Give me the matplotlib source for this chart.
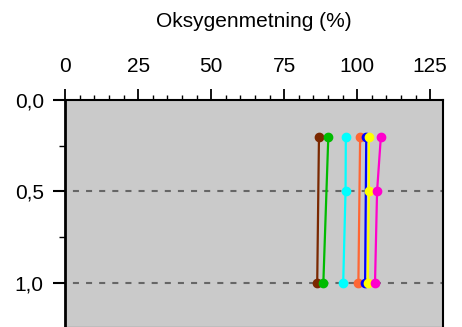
import matplotlib
matplotlib.use("Agg")
import matplotlib.pyplot as plt
from matplotlib.ticker import MultipleLocator, FixedLocator, FuncFormatter

plt.rcParams['font.family'] = ['Liberation Sans', 'DejaVu Sans']

depth_full = [0.2, 0.5, 1.0]
depth_two = [0.2, 1.0]

brown = [86.9, 86.3]
green = [90.1, 88.4]
cyan = [96.1, 96.0, 95.2]
orange = [101.0, 100.4]
blue = [103.1, 102.7]
yellow = [104.0, 104.0, 103.6]
magenta = [108.1, 106.8, 106.1]

series = [
    (brown, depth_two, '#7a2800'),
    (green, depth_two, '#00bb00'),
    (cyan, depth_full, '#00ffff'),
    (orange, depth_two, '#ff6633'),
    (blue, depth_two, '#0000ff'),
    (yellow, depth_full, '#ffff00'),
    (magenta, depth_full, '#ff00cc'),
]

xticks = [0, 25, 50, 75, 100, 125]
yticks = [0.0, 0.5, 1.0]

fig = plt.figure(figsize=(4.62, 3.27), dpi=100)
ax = fig.add_axes([0.1413, 0.0, 0.9596 - 0.1413, 0.694])
ax.set_facecolor('#cacaca')

for yv in [0.5, 1.0]:
    ax.axhline(yv, color='#666666', linestyle=(2.5, (2.9, 3.4)), linewidth=1.5, zorder=1)

for xs, ys, c in series:
    ax.plot(xs, ys, color=c, linewidth=1.6, marker='o', markersize=6, zorder=3)

ax.set_xlim(0, 129.5)
ax.set_ylim(1.243, 0)
ax.xaxis.tick_top()
ax.xaxis.set_label_position('top')
ax.set_xticks(xticks)
ax.xaxis.set_minor_locator(MultipleLocator(5))
ax.set_yticks(yticks)
ax.yaxis.set_minor_locator(FixedLocator([0.25, 0.75]))
ax.yaxis.set_major_formatter(FuncFormatter(lambda v, p: f"{v:.1f}".replace('.', ',')))
ax.set_xlabel('Oksygenmetning (%)', fontsize=15, labelpad=22)

ax.tick_params(axis='x', which='major', direction='out', length=8, width=1.3, labelsize=15, pad=9)
ax.tick_params(axis='x', which='minor', direction='out', length=3.5, width=1)
ax.tick_params(axis='y', which='major', direction='out', length=8.5, width=1.5, labelsize=15, pad=7)
ax.tick_params(axis='y', which='minor', direction='out', length=4, width=1)
for s in ax.spines.values():
    s.set_color('black')
ax.spines['left'].set_linewidth(2)
ax.spines['top'].set_linewidth(1.5)
ax.spines['right'].set_linewidth(1.5)

fig.savefig('out.png', dpi=100)
